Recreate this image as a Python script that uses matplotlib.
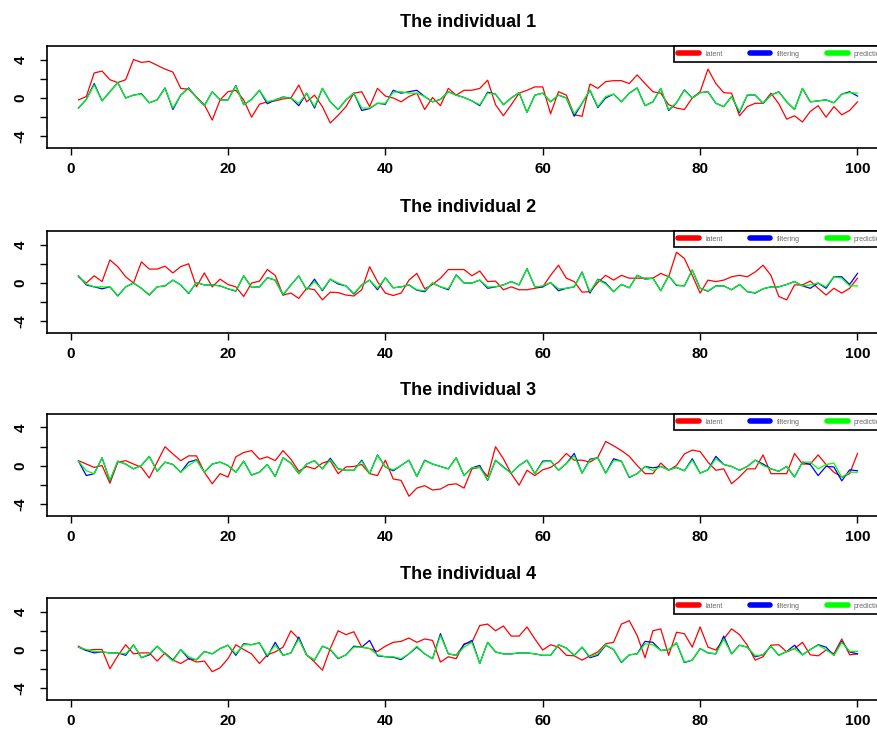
import matplotlib.pyplot as plt
from matplotlib.lines import Line2D
import numpy as np

plt.rcParams['font.family'] = ['Liberation Sans', 'DejaVu Sans']

t = np.arange(1, 101)

# individual 1
latent1 = [-0.2, 0.15, 2.6, 2.8, 1.9, 1.6, 1.9, 4.0, 3.7, 3.8, 3.4, 3.0, 2.7, 1.0, 0.9, 0.1, -0.7, -2.3, -0.2, 0.65,
           0.8, -0.2, -2.0, -0.65, -0.4, -0.3, -0.1, 0.0, 1.35, -0.4, 0.3, -0.9, -2.6, -1.8,
           -0.9, 0.5, 0.65, -0.9, 1.0, 0.2, 0.0, -0.4, 0.15, 0.5, -1.2, 0.05, -0.8, 1.0, 0.3, 0.8,
           0.8, 1.0, 1.85, -0.7, -1.85, -0.7, 0.5, 0.8, 1.15, 1.15, -1.65, 0.65, 0.3, -1.75, -1.9, 1.45, 1.0, 1.7,
           1.8, 1.8, 1.5, 2.4, 1.5, 0.65, 0.5, -0.7, -1.05, -1.2, 0.0, 0.65, 3.0, 1.5, 0.55, 0.5,
           -1.85, -0.9, -0.55, -0.55, 0.5, -0.6, -2.2, -1.85, -2.5, -1.4, -0.8, -2.0, -0.9, -1.75, -1.3, -0.4]
filt1 = [-1.05, -0.15, 1.5, -0.3, 0.65, 1.6, 0.0, 0.3, 0.45, -0.5, -0.2, 1.05, -1.2, 0.3, 1.05, 0.05, -0.8, 0.65, -0.2, -0.2,
         1.3, -0.7, -0.15, 0.8, -0.6, -0.2, 0.1, 0.0, -0.8, 0.5, -1.05, 1.0, -0.4, -1.2,
         -0.2, 0.5, -1.3, -1.1, -0.55, -0.65, 0.8, 0.5, 0.65, 0.8, 0.15, -0.4, -0.15, 0.65, 0.3, 0.05,
         -0.3, -0.8, 0.6, 0.4, -0.7, 0.0, 0.55, -1.5, 0.3, 0.5, -0.4, 0.3, 0.0, -1.9, -0.55, 0.8, -1.0, 0.0,
         0.4, -0.4, 0.5, 1.05, -0.8, -0.4, 1.0, -1.3, -0.5, 0.85, 0.0, 0.55, 0.65, -0.55, -0.9, 0.15,
         -1.5, 0.3, 0.3, -0.55, 0.3, 0.65, -0.4, -1.2, 1.0, -0.4, -0.3, -0.2, -0.5, 0.4, 0.65, 0.2]
pred1 = [-1.05, -0.15, 1.35, -0.3, 0.65, 1.6, 0.0, 0.3, 0.4, -0.5, -0.2, 1.0, -1.05, 0.3, 1.0, 0.05, -0.8, 0.65, -0.2, -0.2,
         1.25, -0.7, -0.15, 0.8, -0.4, -0.2, 0.05, 0.0, -0.55, 0.5, -0.9, 1.0, -0.4, -1.2,
         -0.2, 0.5, -1.05, -1.05, -0.55, -0.55, 0.6, 0.65, 0.5, 0.5, 0.15, -0.4, -0.15, 0.65, 0.3, 0.05,
         -0.3, -0.7, 0.5, 0.4, -0.7, 0.0, 0.55, -1.5, 0.3, 0.5, -0.4, 0.3, 0.0, -1.65, -0.55, 0.85, -0.9, 0.15,
         0.4, -0.4, 0.5, 1.0, -0.8, -0.4, 1.0, -1.2, -0.5, 0.8, 0.0, 0.55, 0.65, -0.55, -0.9, 0.15,
         -1.4, 0.3, 0.3, -0.55, 0.3, 0.65, -0.4, -1.2, 1.0, -0.4, -0.3, -0.2, -0.5, 0.4, 0.55, 0.5]

# individual 2
latent2 = [0.65, 0.0, 0.75, 0.15, 2.4, 1.7, 0.65, 0.0, 2.2, 1.45, 1.45, 1.75, 1.05, 1.7, 2.0, -0.4, 1.05, -0.4, 0.4, -0.15,
           -0.4, -1.4, 0.0, 0.2, 1.4, 0.8, -1.25, -1.05, -1.6, -0.55, -0.7, -1.75, -0.95, -1.0,
           -1.25, -1.35, -0.7, 1.7, 0.15, -1.05, -1.3, -1.05, 0.3, 1.0, -0.6, -0.15, 0.5, 1.4, 1.4, 1.4,
           0.75, 1.25, 0.15, 0.2, -0.7, -0.4, -0.7, -0.7, -0.55, -0.4, 0.8, 1.85, 0.5, 0.15, -0.95, -0.9, 0.05, 0.8,
           0.3, 0.8, 0.5, 0.5, 0.5, 0.5, 1.0, 0.65, 3.2, 2.55, 0.8, -1.05, 0.3, 0.15, 0.3, 0.65,
           0.8, 0.65, 1.15, 1.85, 0.8, -1.4, -1.75, -0.2, -0.2, 0.2, -0.55, -1.25, -0.55, -1.05, -0.55, 0.5]
filt2 = [0.75, -0.2, -0.4, -0.6, -0.4, -1.35, -0.4, 0.0, -0.55, -1.25, -0.4, -0.3, 0.3, -0.2, -1.1, 0.05, -0.2, -0.2, -0.3, -0.6,
         -0.85, 0.75, -0.45, -0.4, 0.55, 0.3, -1.25, -0.2, 0.75, -0.7, 0.4, -0.8, 0.4, -0.1,
         -0.3, -1.15, -0.2, 0.3, -0.7, 0.55, -0.5, -0.4, -0.2, -0.75, -0.9, 0.0, -0.4, -0.7, 0.85, 0.0,
         0.0, 0.3, -0.55, -0.4, -0.2, 0.15, -0.2, 1.5, -0.4, -0.4, 0.05, -0.8, -0.55, -0.4, 1.15, -1.05, 0.4, 0.0,
         -0.9, -0.15, -0.5, 0.8, 0.4, 0.5, -0.8, 0.75, -0.25, -0.3, 1.35, -0.55, -0.85, -0.3, -0.3, -0.7,
         -0.15, -0.9, -1.05, -0.6, -0.4, -0.4, -0.15, 0.15, -0.3, -0.55, 0.0, -0.55, 0.65, 0.65, -0.15, 1.0]
pred2 = [0.75, -0.1, -0.4, -0.4, -0.4, -1.3, -0.4, 0.0, -0.55, -1.2, -0.4, -0.3, 0.3, -0.2, -1.05, 0.05, -0.2, -0.2, -0.3, -0.6,
         -0.8, 0.75, -0.45, -0.4, 0.55, 0.3, -1.2, -0.2, 0.75, -0.7, 0.15, -0.7, 0.4, 0.0,
         -0.3, -1.07, -0.2, 0.3, -0.55, 0.55, -0.5, -0.4, -0.2, -0.7, -0.8, 0.0, -0.4, -0.6, 0.8, 0.0,
         0.0, 0.3, -0.4, -0.4, -0.2, 0.15, -0.2, 1.5, -0.4, -0.3, 0.05, -0.6, -0.55, -0.4, 1.1, -0.9, 0.35, -0.1,
         -0.9, -0.15, -0.5, 0.8, 0.4, 0.5, -0.8, 0.75, -0.2, -0.3, 1.35, -0.55, -0.8, -0.3, -0.3, -0.7,
         -0.15, -0.9, -1.0, -0.6, -0.4, -0.4, -0.15, 0.15, -0.3, -0.2, 0.0, -0.4, 0.65, 0.5, -0.3, -0.3]

# individual 3
latent3 = [0.55, 0.2, -0.15, 0.05, -1.8, 0.4, 0.55, 0.2, -0.15, -1.25, 0.4, 2.0, 1.25, 0.55, 1.05, 1.05, -0.65, -1.85, -0.8, -1.15,
           0.95, 1.4, 1.6, 0.7, 0.95, 0.55, 1.6, 0.7, -0.55, -0.05, -0.3, 0.3, 0.55, -0.8,
           -0.1, -0.05, 0.15, -0.8, -1.0, 0.6, -1.35, -1.5, -3.15, -2.3, -2.05, -2.5, -2.4, -1.95, -1.85, -2.3,
           -0.3, -0.15, -1.1, 2.0, 0.75, -0.8, -2.0, -0.45, -1.0, -0.4, -0.15, 0.4, 1.3, 0.6, 0.6, 0.4, 0.9, 2.55,
           2.1, 1.6, 1.0, 0.05, -0.8, -0.8, 0.3, -0.45, 0.05, 1.25, 1.65, 1.5, 0.4, -0.45, -0.3, -1.85,
           -1.15, -0.3, -0.3, 1.15, -0.8, -0.8, -0.8, 1.3, 0.2, 0.2, 1.15, 0.15, -0.65, -1.15, -0.8, 1.3]
filt3 = [0.5, -1.0, -0.8, 0.85, -1.55, 0.5, 0.2, -0.3, 0.05, 1.0, -0.55, 0.4, 0.15, -0.65, 0.4, 0.65, -0.65, 0.2, 0.4, 0.05,
         -0.65, 0.5, -0.95, -0.65, 0.15, -1.1, 0.85, 0.3, -0.8, 0.2, 0.55, -0.3, 0.8, -0.3,
         -0.45, -0.45, 0.6, -0.8, 1.15, -0.1, -0.5, 0.05, 0.6, -1.1, 0.6, 0.2, -0.05, -0.3, 0.85, -1.0,
         -0.2, 0.05, -1.5, 0.6, -0.1, -0.75, 0.05, 0.6, -0.8, 0.5, 0.55, -0.45, 0.25, 1.3, -0.75, 0.7, 0.85, -0.75,
         0.75, 0.5, -1.2, -0.8, -0.05, -0.2, -0.05, -0.4, -0.15, -0.5, 0.75, -0.75, -0.4, 1.0, 0.15, -0.05,
         -0.45, -0.05, 0.6, 0.2, -0.3, -0.55, -0.05, -1.15, 0.4, 0.15, -1.0, -0.05, -0.1, -1.55, -0.4, -0.5]
pred3 = [0.5, -0.5, -0.8, 0.85, -1.5, 0.5, 0.2, -0.3, 0.05, 1.0, -0.55, 0.4, 0.15, -0.65, 0.05, 0.6, -0.65, 0.2, 0.4, 0.05,
         -0.65, 0.5, -0.95, -0.65, 0.15, -1.1, 0.85, 0.3, -0.8, 0.2, 0.55, -0.3, 0.65, -0.3,
         -0.45, -0.45, 0.5, -0.8, 1.1, -0.1, -0.4, 0.05, 0.6, -1.1, 0.55, 0.2, -0.05, -0.3, 0.85, -1.0,
         -0.2, -0.15, -1.45, 0.6, -0.15, -0.75, 0.05, 0.6, -0.8, 0.4, 0.55, -0.45, 0.25, 1.05, -0.75, 0.6, 0.85, -0.75,
         0.55, 0.5, -1.15, -0.8, -0.05, -0.5, -0.05, -0.4, -0.15, -0.5, 0.6, -0.75, -0.4, 0.75, 0.15, -0.05,
         -0.45, -0.05, 0.6, 0.05, -0.3, -0.55, -0.05, -1.15, 0.4, 0.4, -0.3, 0.15, 0.3, -1.2, -0.65, -0.65]

# individual 4
latent4 = [0.4, -0.05, 0.05, 0.05, -1.95, -0.6, 0.55, -0.4, -0.3, -0.3, -1.15, -0.3, -1.05, -1.4, -0.9, -1.25, -1.15, -2.25, -1.85, -0.9,
           0.55, 0.05, -0.4, -1.4, -0.5, -0.2, 0.3, 2.0, 1.15, -0.5, -1.25, -2.1, 0.15, 2.0,
           1.6, 1.9, 0.3, 0.15, -0.15, 0.4, 0.8, 0.9, 1.25, 0.8, 1.15, 1.0, -1.25, -0.7, -0.9, 0.65,
           0.8, 2.55, 2.7, 2.0, 2.5, 1.45, 1.45, 2.4, 1.15, 0.0, 0.55, 0.3, -0.55, -0.6, -1.05, -0.6, -0.2, 0.65,
           0.8, 2.7, 3.05, 1.5, -0.8, 2.0, 2.2, -0.55, 1.85, 1.7, 0.3, 2.4, 0.3, 0.0, 1.15, 2.2,
           1.6, 0.5, -1.05, -0.7, 0.5, 0.55, -0.2, 0.15, 0.8, -0.5, -0.6, 0.0, -0.4, 1.15, -0.5, -0.4]
filt4 = [0.3, -0.05, -0.3, -0.2, -0.3, -0.3, -0.55, 0.55, -0.8, -0.5, 0.4, -0.4, -1.05, 0.05, -0.9, -1.0, -0.15, -0.4, 0.15, 0.5,
         -0.55, 0.65, 0.55, 0.75, -0.7, 0.8, -0.55, -0.3, 1.35, -0.55, -1.05, 0.4, 0.05, -0.9,
         -0.5, 0.4, 0.3, 1.0, -0.6, -0.7, -0.75, -1.0, -0.4, 0.3, -0.4, -0.9, 1.7, -0.4, -0.55, 0.55,
         1.0, -1.4, 0.8, -0.2, -0.4, -0.4, -0.3, -0.3, -0.4, -0.55, -0.55, 0.55, 0.2, -0.55, 0.3, -0.8, -0.55, 0.5,
         0.05, -1.3, -0.5, -0.4, 0.9, 0.8, -0.05, 0.05, 0.75, -1.3, -1.05, 0.15, -0.3, -0.4, 1.45, -0.4,
         0.5, 0.3, -0.7, -0.5, 0.4, -0.55, -0.15, 0.5, -0.5, 0.05, 0.55, 0.3, -0.55, 0.9, -0.2, -0.4]
pred4 = [0.3, 0.05, -0.15, -0.2, -0.3, -0.3, -0.4, 0.55, -0.8, -0.4, 0.4, -0.4, -1.15, 0.05, -0.7, -1.05, -0.15, -0.4, 0.15, 0.5,
         -0.4, 0.55, 0.55, 0.75, -0.55, 0.5, -0.55, -0.3, 1.15, -0.55, -1.05, 0.4, 0.1, -0.85,
         -0.5, 0.3, 0.3, 0.15, -0.5, -0.7, -0.7, -0.9, -0.4, 0.4, -0.4, -0.9, 1.5, -0.4, -0.55, 0.3,
         0.8, -1.4, 0.8, -0.2, -0.4, -0.4, -0.3, -0.3, -0.4, -0.55, -0.55, 0.55, 0.2, -0.55, 0.3, -0.7, -0.4, 0.55,
         0.05, -1.25, -0.5, -0.4, 0.65, 0.55, -0.05, 0.05, 0.75, -1.25, -1.05, 0.15, -0.3, -0.4, 1.15, -0.4,
         0.5, 0.3, -0.6, -0.5, 0.4, -0.55, -0.15, 0.15, -0.5, 0.05, 0.5, 0.05, -0.55, 0.8, -0.15, -0.15]

series = [(latent1, filt1, pred1), (latent2, filt2, pred2),
          (latent3, filt3, pred3), (latent4, filt4, pred4)]
names = ['latent', 'filtering', 'prediction']
colors = ['#ff0000', '#0000ff', '#00ff00']

fig = plt.figure(figsize=(8.78, 7.44), dpi=100)
bottoms = [0.8011, 0.5524, 0.3065, 0.0591]

for k, (lat, fil, pre) in enumerate(series):
    ax = fig.add_axes([0.0535, bottoms[k], 0.959, 0.137])
    ax.plot(t, lat, color=colors[0], lw=0.9)
    ax.plot(t, fil, color=colors[1], lw=0.9)
    ax.plot(t, pre, color=colors[2], lw=0.9)
    ax.set_xlim(-3, 104)
    ax.set_ylim(-5.2, 5.4)
    ax.set_xticks([0, 20, 40, 60, 80, 100])
    ax.set_xticklabels(['0', '20', '40', '60', '80', '100'], fontweight='bold')
    ax.set_yticks([-4, -2, 0, 2, 4])
    ax.set_yticklabels(['-4', '', '0', '', '4'], fontweight='bold', rotation=90, va='center')
    ax.tick_params(direction='out', length=5, width=1, labelsize=11, colors='black')
    ax.tick_params(axis='x', pad=5)
    ax.tick_params(axis='y', pad=9)
    for s in ax.spines.values():
        s.set_linewidth(1.2)
    ax.set_title('The individual %d' % (k + 1), fontsize=13, fontweight='bold', pad=14)
    # legend runs off the right edge, as in the original
    handles = [Line2D([], [], color=c, lw=4, solid_capstyle='round') for c in colors]
    leg = ax.legend(handles, names, ncol=3, loc='upper right', borderaxespad=0,
                    prop={'size': 5}, handlelength=3.0, handletextpad=0.9,
                    columnspacing=3.9, fancybox=False, edgecolor='black',
                    framealpha=1, labelcolor='#666666', borderpad=0.65)
    leg.get_frame().set_linewidth(1.2)

fig.savefig('out.png', dpi=100)
